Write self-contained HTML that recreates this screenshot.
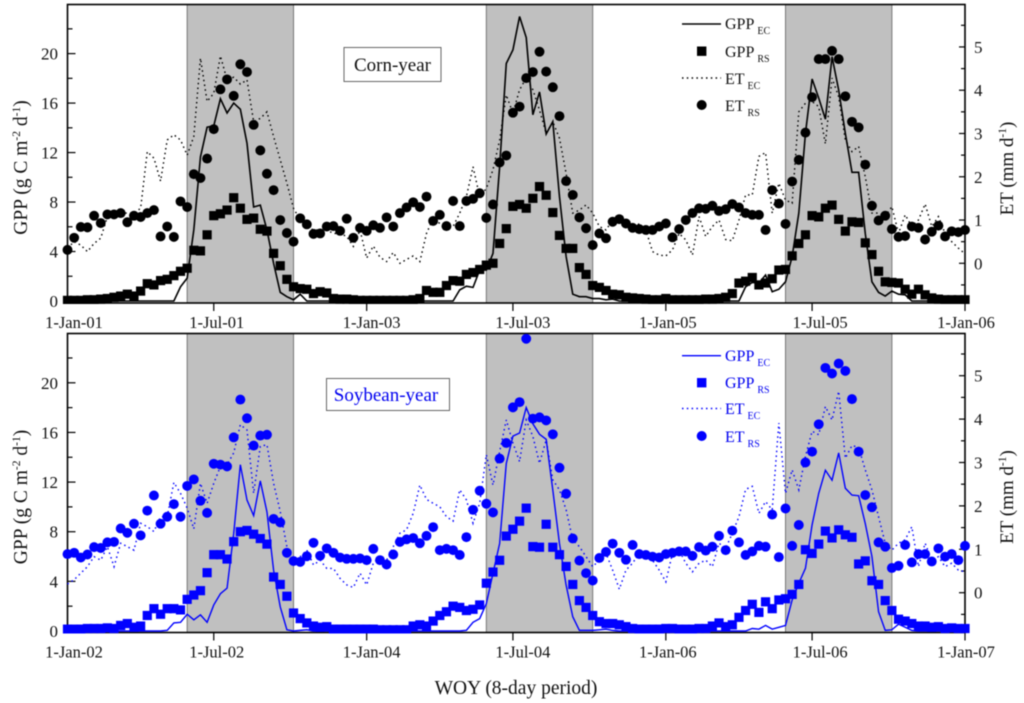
<!DOCTYPE html>
<html lang="en">
<head>
<meta charset="utf-8">
<title>GPP and ET, corn-year and soybean-year</title>
<style>
html,body{margin:0;padding:0;background:#fff;}
#chart{display:block;width:1024px;height:703px;filter:blur(0.5px);font-family:"Liberation Serif",serif;}
</style>
</head>
<body>
<svg id="chart" xmlns="http://www.w3.org/2000/svg" width="1024" height="703" viewBox="0 0 1024 703">
  <rect x="0" y="0" width="1024" height="703" fill="#fff"/>
  <g id="panel-top"></g>
  <g id="panel-bottom"></g>

  <g font-size="16" fill="#111">
    <line x1="682" x2="721" y1="24" y2="24" stroke="#000" stroke-width="1.6"/>
    <text x="725" y="29">GPP<tspan dx="3" dy="5" font-size="10">EC</tspan></text>
    <rect x="697" y="46.5" width="9.4" height="9.4" fill="#000"/>
    <text x="725" y="57">GPP<tspan dx="3" dy="5" font-size="10">RS</tspan></text>
    <line x1="682" x2="721" y1="78" y2="78" stroke="#000" stroke-width="1.4" stroke-dasharray="1.5 3.3"/>
    <text x="725" y="84">ET<tspan dx="3" dy="5" font-size="10">EC</tspan></text>
    <circle cx="701.7" cy="105" r="5" fill="#000"/>
    <text x="725" y="111">ET<tspan dx="3" dy="5" font-size="10">RS</tspan></text>
  </g>
  <g font-size="16" fill="#0000f0">
    <line x1="682" x2="721" y1="355.7" y2="355.7" stroke="#0000ff" stroke-width="1.4"/>
    <text x="725" y="361">GPP<tspan dx="3" dy="5" font-size="10">EC</tspan></text>
    <rect x="697" y="378" width="9.4" height="9.4" fill="#0000ff"/>
    <text x="725" y="388">GPP<tspan dx="3" dy="5" font-size="10">RS</tspan></text>
    <line x1="682" x2="721" y1="408.5" y2="408.5" stroke="#0000ff" stroke-width="1.4" stroke-dasharray="1.5 3.3"/>
    <text x="725" y="414">ET<tspan dx="3" dy="5" font-size="10">EC</tspan></text>
    <circle cx="701.7" cy="436" r="5" fill="#0000ff"/>
    <text x="725" y="442">ET<tspan dx="3" dy="5" font-size="10">RS</tspan></text>
  </g>

  <g>
    <rect x="344" y="47.5" width="97" height="34" fill="#fff" stroke="#666" stroke-width="1"/>
    <text x="392.5" y="71" text-anchor="middle" font-size="19" fill="#111">Corn-year</text>
  </g>
  <g>
    <rect x="326.5" y="378.5" width="123" height="32" fill="#fff" stroke="#666" stroke-width="1"/>
    <text x="386" y="401" text-anchor="middle" font-size="19" fill="#0000f0">Soybean-year</text>
  </g>

  <text transform="translate(27,167.5) rotate(-90)" text-anchor="middle" font-size="19.5" fill="#111">GPP (g C m<tspan dy="-7" font-size="11.5">-2</tspan><tspan dy="7"> d</tspan><tspan dy="-7" font-size="11.5">-1</tspan><tspan dy="7">)</tspan></text>
  <text transform="translate(27,497) rotate(-90)" text-anchor="middle" font-size="19.5" fill="#111">GPP (g C m<tspan dy="-7" font-size="11.5">-2</tspan><tspan dy="7"> d</tspan><tspan dy="-7" font-size="11.5">-1</tspan><tspan dy="7">)</tspan></text>
  <text transform="translate(1013,168.5) rotate(-90)" text-anchor="middle" font-size="19" fill="#111">ET (mm d<tspan dy="-7" font-size="11.5">-1</tspan><tspan dy="7">)</tspan></text>
  <text transform="translate(1013,497) rotate(-90)" text-anchor="middle" font-size="19" fill="#111">ET (mm d<tspan dy="-7" font-size="11.5">-1</tspan><tspan dy="7">)</tspan></text>
  <text x="516" y="694" text-anchor="middle" font-size="19.5" fill="#111">WOY (8-day period)</text>
</svg>

<script>
// ---------- Corn-year panel data ----------
var cornXLabels = ["1-Jan-01","1-Jul-01","1-Jan-03","1-Jul-03","1-Jan-05","1-Jul-05","1-Jan-06"];
var cornGppEc = [
0,0,0,0,0,0,0,0,0,0,
0,0,0,0,0,0,0,1.15,1.85,5.75,
11.65,14.05,14.15,16.35,15.2,16,15.5,12.75,7.6,7.75,
5.75,3.05,.7,.35,.1,.55,0,0,0,0,
0,0,0,0,0,0,0,0,0,0,
0,0,0,0,0,0,0,0,0,.9,
1.2,1.1,2.5,2.5,3.85,10.85,19.2,20.3,23,21.3,
15.05,16.9,13.5,14.5,8.45,3.6,.55,.35,.35,.2,
.2,.1,.15,0,0,0,0,0,0,0,
0,0,0,0,0,0,0,0,0,0,
0,0,1.15,1.5,1.45,2.1,.75,.95,1.55,3.6,
7.1,13.55,17.95,16.4,14.7,19.75,17.05,13.55,10.4,10.4,
5.45,1.55,.7,.4,.8,.55,.5,0,0,0,
0,0,0,0,0,0];
var cornGppRs = [
.05,.05,.05,.1,.1,.15,.2,.3,.4,.55,
.4,.8,1.4,1.3,1.65,1.75,2.05,2.4,2.65,4.1,
4.05,5.35,6.9,7.05,7.35,8.35,7.5,6.6,6.7,5.8,
5.65,3.85,2.85,1.75,1.15,1,.95,.6,.75,.65,
.2,.15,.15,.1,.05,.05,.05,.05,.05,.05,
.05,.05,.1,.2,.85,.7,.7,1.25,1.65,1.6,
2.15,2.3,2.55,2.9,3.05,4.65,5.85,7.65,7.8,7.5,
8.3,9.25,8.55,7.15,5.3,4.25,4.25,2.7,2.15,1.25,
1.1,.85,.55,.5,.3,.25,.2,.15,.1,.1,
.2,.1,.1,.1,.1,.1,.15,.15,.2,.3,
.6,1.45,1.6,1.9,1.3,1.45,1.8,2.5,2.55,3.65,
4.65,5.35,6.9,6.8,7.5,7.75,6.6,5.65,6.4,6.35,
4.7,3.75,2.4,1.55,1.5,1.45,.95,.55,.95,.5,
.25,.15,.1,.1,.1,.1];
var cornEtEc = [
.35,.5,.42,.27,.46,.58,1.08,1.08,1.16,1.16,
1.16,1.27,2.58,2.43,1.9,2.85,2.97,2.85,2.5,2.93,
4.74,3.74,3.93,4.79,4.24,4.3,4.14,4.24,3.27,3.35,
3.5,2.93,2.39,1.85,1.27,1,.85,.77,.77,.77,
.69,.69,.62,.39,.77,.12,.4,.14,.04,.25,
0,.09,.17,.04,.69,1.04,.92,.77,.85,1.16,
1.54,2.23,1.54,1.73,2.16,2.85,3.89,3.47,4.01,4.28,
4.01,3.54,3,3.27,2.89,2.08,1.16,1.23,1.35,1.16,
.85,.77,1,.92,.85,.77,.92,.77,.27,.19,
.17,.31,.69,.54,.19,1.08,.62,.85,1,.55,
.52,1,1.58,1.58,2.47,2.56,1.16,1.85,1.46,1.39,
3.5,3.7,3.74,3.62,2.76,4.28,3.85,2.85,2.58,2.7,
2,1.16,1.16,1.08,1.31,.69,1.12,.85,1,1.37,
.85,1.08,.69,.5,.35,.22];
var cornEtRs = [
.31,.59,.84,.83,1.1,.93,1.13,1.13,1.16,.95,
1.1,1.07,1.16,1.23,.62,.85,.61,1.43,1.3,2.06,
1.97,2.42,3.1,4.02,4.25,3.87,4.6,4.42,3.2,2.61,
2.07,1.69,1,.7,.5,1.04,.9,.68,.69,.85,
.86,.75,1.03,.59,.82,.75,.88,.82,1.06,.85,
1.16,1.29,1.41,1.3,1.54,.98,1.12,.86,1.44,.86,
1.44,1.49,1.62,1.05,1.36,2.33,2.49,3.48,3.62,4.28,
4.42,4.89,4.43,4.07,3.4,1.9,1.58,1.06,.81,.42,
.69,.58,.96,1.02,.92,.82,.79,.77,.77,.85,
.92,.6,.79,1,1.16,1.27,1.26,1.33,1.21,1.25,
1.37,1.29,1.16,1.12,1.12,.77,1.69,1.38,.91,1.89,
2.39,3.02,3.84,4.72,4.72,4.91,4.72,3.86,3.27,3.14,
2.28,1.33,.99,1.1,.79,.61,.63,.85,.82,.55,
.73,.87,.62,.74,.72,.77];

// ---------- Soybean-year panel data ----------
var soyXLabels = ["1-Jan-02","1-Jul-02","1-Jan-04","1-Jul-04","1-Jan-06","1-Jul-06","1-Jan-07"];
var soyGppEc = [
0,0,0,0,0,0,0,0,0,0,
0,0,0,0,0,.05,.65,.7,1.35,.9,
1.3,.7,2.1,3,3.45,7.85,13.4,10.55,9.3,12.1,
9.6,4.9,1.95,.1,0,.05,.1,0,0,0,
0,0,0,0,0,0,0,0,0,0,
0,0,0,0,0,0,0,0,0,0,
.05,.7,1,2.2,4.65,7.05,13.5,15.7,15.95,18,
16.7,15.85,15.45,11.35,7.05,3.7,1.15,.05,.05,.05,
.1,.15,.05,0,0,0,0,0,0,0,
0,0,0,0,0,0,0,0,0,0,
0,0,0,.2,.15,.45,.15,.3,.45,2.5,
3.85,5.05,8.55,11.1,12.95,12.15,14.35,11.5,10.95,10.9,
8.65,6,1.55,.05,.1,.55,.3,.05,0,0,
0,0,0,0,0,0];
var soyGppRs = [
.15,.15,.15,.2,.2,.2,.25,.2,.45,.6,
.3,.4,1.25,1.8,1.35,1.8,1.8,1.7,2.55,2.9,
3.25,4.7,6.15,6.15,5.8,7.2,8,8.1,7.8,7.45,
7,4.35,3.75,2.8,1.45,1,.65,.4,.3,.35,
.15,.15,.15,.15,.15,.15,.15,.1,.1,.1,
.1,.1,.4,.5,.4,.8,1.25,1.55,2,1.9,
1.65,1.75,2.1,3.85,4.75,5.7,7.65,8.2,8.85,9.9,
6.8,6.75,8.6,6.75,6.15,5.2,3.75,2.45,1.9,1.25,
.75,.6,.6,.5,.35,.2,.15,.15,.15,.15,
.2,.2,.15,.15,.15,.2,.2,.4,.65,.35,
.5,1.1,1.65,2.15,1.5,2.35,1.8,2.5,2.6,2.95,
3.75,6.55,6.25,7,8.05,7.5,8.15,7.75,7.55,5.4,
5.65,4.05,3.75,2.45,1.65,.95,.8,.6,.4,.4,
.3,.35,.2,.25,.2,.2];
var soyEtEc = [
.2,.3,.45,.6,.83,.75,1.06,.6,1.14,1.06,
.98,1.6,1.52,1.41,1.75,1.75,2.54,2.29,1.95,1.47,
2.52,2.06,2.52,2.91,2.95,3.22,3.87,3.75,2.29,3.37,
3.41,2.52,1.87,1.06,.75,.83,.98,.64,.75,.56,
.56,.33,.18,.12,.45,.18,.68,.83,.75,1.06,
1.37,1.45,1.83,2.48,2.15,2.06,1.98,1.75,1.65,2.37,
2.14,1.6,2.06,3.18,2.48,3.25,3.98,3.45,3.02,3.98,
3.6,2.98,3.52,2.6,2.37,1.91,1.22,1.06,.83,.6,
.75,.91,.52,.08,.52,.68,.91,.95,.75,.52,
.25,.91,.98,.68,.48,.68,.75,.6,1.14,1.02,
1.37,1.75,2.38,2.45,1.83,2.1,1.91,3.91,2.29,2.83,
2.37,3.14,3.72,3.64,4.29,3.98,4.64,3.1,3.39,3.35,
2.83,2.37,1.75,1.14,.98,1.14,1.22,1.52,.6,1.14,
.75,.83,.6,.68,.52,.48];
var soyEtRs = [
.89,.92,.81,.88,1.05,1.03,1.16,1.17,1.48,1.38,
1.59,1.32,1.89,2.24,1.59,1.75,2.04,1.75,2.46,2.61,
2.12,1.84,2.97,2.95,2.91,3.58,4.45,4.02,3.39,3.62,
3.64,1.7,1.62,.92,.73,.71,.84,1.15,.85,1.02,
.92,.81,.78,.78,.79,.75,1.01,.75,.65,.88,
1.17,1.23,1.26,1.14,1.31,1.51,.98,1.01,.98,.87,
1.28,1.91,2.35,2.05,1.85,3.09,3.45,4.27,4.39,5.85,
4.01,4.04,3.97,3.65,2.88,2.28,1.25,.74,.45,.28,
.8,.94,1.13,.92,.76,1.1,.89,.87,.83,.81,
.89,.92,.95,.95,.85,1.05,.97,1.06,1.31,.98,
1.43,1.16,.87,.95,1.08,1.06,1.8,.82,1.94,1.08,
1.56,3,3.25,3.88,5.18,5.05,5.28,5.11,4.46,3.25,
2.25,1.97,1.16,1.06,.57,.62,1.1,.7,.89,.89,
.72,1.02,.83,.89,.75,1.08];

// ---------- Shared axis tick values ----------
var gppMajorTicks = [0,4,8,12,16,20];
var gppMinorTicks = [2,6,10,14,18,22];
var etMajorTicks = [0,1,2,3,4,5];
var etMinorTicks = [-0.5,0.5,1.5,2.5,3.5,4.5,5.5];
var xTickIndex = [0,22,45,67,90,112,135];
var shadeStartIndex = [18,63,108];
var shadeEndIndex = [34,79,124];

// ---------- Layout (not data) ----------
var PLOT_LEFT = 67.5, PLOT_RIGHT = 965, LAST_INDEX = 135;
var LABEL_NUDGE = [6.5,3,5,10,2,8,1];
var SQUARE_SIZE = 9.2, CIRCLE_RADIUS = 4.95;
var SVGNS = "http://www.w3.org/2000/svg";

function xScale(i){ return PLOT_LEFT + i * (PLOT_RIGHT - PLOT_LEFT) / LAST_INDEX; }

function addNode(parent, tag, attrs, text){
  var el = document.createElementNS(SVGNS, tag);
  for (var k in attrs) el.setAttribute(k, attrs[k]);
  if (text !== undefined) el.textContent = text;
  parent.appendChild(el);
  return el;
}

function linePath(values, yScale){
  var d = "";
  for (var i = 0; i < values.length; i++){
    d += (i ? "L" : "M") + xScale(i).toFixed(2) + " " + yScale(values[i]).toFixed(2);
  }
  return d;
}

function drawPanel(root, p){
  var el, i;
  function gppY(v){ return p.gppZero - p.gppScale * v; }
  function etY(v){ return p.etZero - p.etScale * v; }

  for (i = 0; i < shadeStartIndex.length; i++){
    el = addNode(root, "rect", {x: xScale(shadeStartIndex[i]), y: p.top, width: xScale(shadeEndIndex[i]) - xScale(shadeStartIndex[i]), height: p.bottom - p.top, fill: "#c0c0c0", stroke: "#777", "stroke-width": 1});
    
    
  }

  el = addNode(root, "rect", {x: PLOT_LEFT, y: p.top, width: PLOT_RIGHT - PLOT_LEFT, height: p.bottom - p.top, fill: "none", stroke: "#000", "stroke-width": 1.6});
  
  

  for (i = 0; i < gppMajorTicks.length; i++){
    el = addNode(root, "line", {x1: PLOT_LEFT, x2: PLOT_LEFT + 8, y1: gppY(gppMajorTicks[i]), y2: gppY(gppMajorTicks[i]), stroke: "#000", "stroke-width": 1.2});
    
    
    el = addNode(root, "text", {x: 58, y: gppY(gppMajorTicks[i]) + 6, "text-anchor": "end", "font-size": 17, fill: "#111"}, String(gppMajorTicks[i]));
    
    
  }
  for (i = 0; i < gppMinorTicks.length; i++){
    el = addNode(root, "line", {x1: PLOT_LEFT, x2: PLOT_LEFT + 5, y1: gppY(gppMinorTicks[i]), y2: gppY(gppMinorTicks[i]), stroke: "#000", "stroke-width": 1.2});
    
    
  }
  for (i = 0; i < etMajorTicks.length; i++){
    el = addNode(root, "line", {x1: PLOT_RIGHT - 6, x2: PLOT_RIGHT, y1: etY(etMajorTicks[i]), y2: etY(etMajorTicks[i]), stroke: "#000", "stroke-width": 1.2});
    
    
    el = addNode(root, "text", {x: 974, y: etY(etMajorTicks[i]) + 6, "font-size": 17, fill: "#111"}, String(etMajorTicks[i]));
    
    
  }
  for (i = 0; i < etMinorTicks.length; i++){
    el = addNode(root, "line", {x1: PLOT_RIGHT - 4, x2: PLOT_RIGHT, y1: etY(etMinorTicks[i]), y2: etY(etMinorTicks[i]), stroke: "#000", "stroke-width": 1.2});
    
    
  }
  for (i = 0; i < xTickIndex.length; i++){
    if (i > 0){
      el = addNode(root, "line", {x1: xScale(xTickIndex[i]), x2: xScale(xTickIndex[i]), y1: p.bottom, y2: p.bottom + 8, stroke: "#000", "stroke-width": 1.2});
      
      
    }
    el = addNode(root, "text", {x: xScale(xTickIndex[i]) + LABEL_NUDGE[i], y: p.bottom + 25, "text-anchor": "middle", "font-size": 16.5, fill: "#111"}, p.xLabels[i]);
    
    
  }

  var clipId = p.prefix + "-clip";
  var defs = addNode(root, "defs", {});
  var clip = addNode(defs, "clipPath", {id: clipId});
  addNode(clip, "rect", {x: 50, y: p.top - 5, width: 930, height: p.bottom - p.top + 6});

  var marks = addNode(root, "g", {"clip-path": "url(#" + clipId + ")"});
  
  

  el = addNode(marks, "path", {d: linePath(p.etEc, etY), fill: "none", stroke: p.color, "stroke-width": 1.4, "stroke-dasharray": "1.5 3.3"});
  
  

  el = addNode(marks, "path", {d: linePath(p.gppEc, gppY), fill: "none", stroke: p.color, "stroke-width": p.lineWidth});
  
  

  for (i = 0; i < p.gppRs.length; i++){
    el = addNode(marks, "rect", {x: xScale(i) - SQUARE_SIZE / 2, y: gppY(p.gppRs[i]) - SQUARE_SIZE / 2, width: SQUARE_SIZE, height: SQUARE_SIZE, fill: p.color});
    
    
  }
  for (i = 0; i < p.etRs.length; i++){
    el = addNode(marks, "circle", {cx: xScale(i), cy: etY(p.etRs[i]), r: CIRCLE_RADIUS, fill: p.color});
    
    
  }
}

drawPanel(document.getElementById("panel-top"), {
  prefix: "corn", color: "#000", lineWidth: 1.6,
  top: 4.5, bottom: 303,
  gppZero: 301, gppScale: 12.37, etZero: 263.3, etScale: 43.27,
  xLabels: cornXLabels, gppEc: cornGppEc, gppRs: cornGppRs, etEc: cornEtEc, etRs: cornEtRs
});
drawPanel(document.getElementById("panel-bottom"), {
  prefix: "soy", color: "#0000ff", lineWidth: 1.4,
  top: 333.5, bottom: 632.5,
  gppZero: 631, gppScale: 12.41, etZero: 592.7, etScale: 43.4,
  xLabels: soyXLabels, gppEc: soyGppEc, gppRs: soyGppRs, etEc: soyEtEc, etRs: soyEtRs
});

// Keep the legends and boxes above the panels they sit on.
var svg = document.getElementById("chart");
var panelBottom = document.getElementById("panel-bottom");
var panelTop = document.getElementById("panel-top");
svg.insertBefore(panelTop, svg.children[1]);
svg.insertBefore(panelBottom, svg.children[2]);
</script>
</body>
</html>
